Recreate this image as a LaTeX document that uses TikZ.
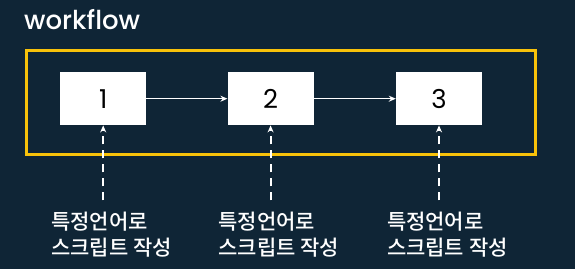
\documentclass[tikz,border=0pt]{standalone}
\usepackage{fontspec}
\setmainfont{Poppins}[BoldFont={Poppins Medium}]
\newfontfamily\kofont{Noto Sans CJK KR}[BoldFont={Noto Sans CJK KR Medium}]
\usetikzlibrary{positioning,arrows.meta}
\definecolor{bgnavy}{HTML}{0F2536}
\definecolor{frameyellow}{HTML}{F8C20A}

\tikzset{
  stepbox/.style={draw=none, rectangle, fill=white, minimum width=86pt, minimum height=53pt, inner sep=0pt, font=\fontsize{26}{28}\selectfont},
  flow/.style={draw=white, line width=1.4pt, -{Stealth[length=7pt,width=6pt]}},
  feed/.style={draw=white, line width=1.8pt, dash pattern=on 8pt off 6pt, -{Stealth[length=7pt,width=6pt]}},
  note/.style={text=white, align=left, inner sep=0pt, font=\kofont\bfseries\fontsize{21}{26}\selectfont}
}

\begin{document}
\begin{tikzpicture}[x=1pt, y=-1pt, node distance=81pt]
    % Background
    \fill [bgnavy] (0,0) rectangle (575,269);
    \useasboundingbox (0,0) rectangle (575,269);

    % Title and frame
    \node [anchor=west, text=white, inner sep=0pt, font=\bfseries\fontsize{26}{30}\selectfont] (title) at (24,20) {workflow};
    \draw [frameyellow, line width=3pt] (26,50) rectangle (535,154);

    % Nodes
    \node [stepbox, anchor=north west] (b1) at (60,72) {1};
    \node [stepbox, right=81pt of b1] (b2) {2};
    \node [stepbox, right=82pt of b2] (b3) {3};

    % Arrows
    \draw [flow] (b1) -- (b2);
    \draw [flow] (b2) -- (b3);

    % Inputs
    \coordinate [below=75pt of b1.south] (s1);
    \coordinate [below=75pt of b2.south] (s2);
    \coordinate [below=75pt of b3.south] (s3);
    \draw [feed] (s1) -- (b1);
    \draw [feed] (s2) -- (b2);
    \draw [feed] (s3) -- (b3);

    % Labels
    \node [note, anchor=north west] (t1) at ([xshift=-9pt, yshift=-86pt]b1.south west) {특정언어로\\스크립트 작성};
    \node [note, anchor=north west] (t2) at ([xshift=-9pt, yshift=-86pt]b2.south west) {특정언어로\\스크립트 작성};
    \node [note, anchor=north west] (t3) at ([xshift=-9pt, yshift=-86pt]b3.south west) {특정언어로\\스크립트 작성};
\end{tikzpicture}
\end{document}
